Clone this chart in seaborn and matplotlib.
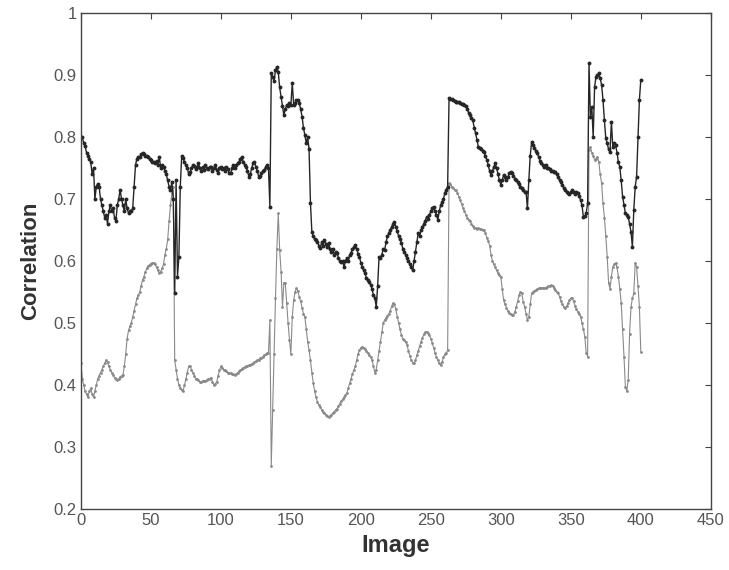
import numpy as np
import pandas as pd
import seaborn as sns
import matplotlib
matplotlib.use("Agg")
import matplotlib.pyplot as plt

# ---- data ----
image_idx = list(range(0, 401))

corr_upper = [
    .800, .800, .790, .785, .775, .770, .765, .760, .740, .750,
    .700, .720, .725, .720, .700, .690, .680, .670, .675, .660,
    .680, .690, .680, .685, .670, .665, .690, .700, .715, .700,
    .690, .680, .700, .685, .677, .680, .680, .685, .720, .755,
    .765, .768, .768, .772, .774, .772, .770, .769, .768, .765,
    .763, .760, .760, .758, .762, .755, .768, .750, .755, .752,
    .745, .740, .730, .720, .715, .728, .700, .548, .730, .575,
    .607, .720, .770, .766, .760, .755, .750, .740, .744, .750,
    .755, .753, .748, .752, .758, .750, .745, .752, .747, .755,
    .750, .748, .752, .752, .745, .750, .755, .747, .742, .750,
    .752, .748, .750, .745, .752, .748, .742, .742, .750, .755,
    .750, .755, .758, .760, .765, .768, .760, .755, .752, .745,
    .736, .740, .750, .758, .760, .752, .745, .736, .738, .742,
    .745, .747, .752, .755, .750, .688, .903, .897, .890, .908,
    .913, .905, .880, .865, .850, .835, .845, .852, .850, .855,
    .852, .887, .852, .855, .860, .860, .855, .845, .833, .815,
    .803, .790, .800, .780, .693, .647, .640, .635, .634, .630,
    .625, .621, .630, .625, .634, .628, .622, .629, .620, .615,
    .620, .610, .615, .613, .605, .600, .599, .600, .590, .600,
    .605, .600, .610, .613, .620, .622, .626, .620, .612, .607,
    .597, .590, .585, .580, .572, .569, .566, .562, .555, .545,
    .540, .526, .560, .607, .605, .610, .620, .618, .630, .640,
    .645, .650, .655, .660, .663, .655, .648, .640, .635, .629,
    .620, .615, .610, .605, .600, .595, .591, .585, .600, .615,
    .630, .645, .640, .650, .655, .660, .665, .671, .668, .675,
    .680, .685, .688, .680, .675, .666, .680, .690, .695, .700,
    .710, .715, .720, .863, .862, .861, .860, .858, .857, .857,
    .856, .855, .854, .853, .852, .850, .845, .839, .835, .830,
    .827, .815, .806, .795, .784, .782, .780, .778, .776, .770,
    .763, .755, .745, .739, .745, .752, .758, .750, .740, .730,
    .723, .730, .739, .735, .730, .735, .742, .744, .742, .738,
    .733, .730, .728, .724, .720, .718, .715, .712, .712, .685,
    .730, .770, .792, .787, .782, .778, .774, .768, .762, .758,
    .755, .752, .755, .750, .750, .748, .746, .745, .744, .744,
    .740, .735, .730, .728, .723, .718, .714, .712, .710, .708,
    .712, .714, .712, .708, .712, .710, .705, .698, .690, .671,
    .672, .677, .693, .919, .833, .849, .800, .881, .897, .900,
    .903, .895, .884, .860, .827, .798, .790, .780, .776, .825,
    .784, .790, .787, .775, .760, .752, .730, .704, .690, .677,
    .675, .671, .660, .647, .623, .682, .720, .736, .800, .860,
    .892,
]

corr_lower = [
    .435, .410, .400, .390, .385, .380, .390, .395, .385, .380,
    .390, .400, .410, .415, .420, .425, .430, .435, .440, .437,
    .430, .425, .420, .416, .412, .410, .408, .410, .413, .415,
    .416, .430, .450, .475, .488, .495, .500, .510, .520, .530,
    .540, .545, .550, .560, .570, .575, .582, .588, .592, .594,
    .596, .597, .597, .595, .590, .585, .580, .583, .588, .595,
    .610, .620, .635, .665, .690, .710, .720, .440, .425, .410,
    .400, .395, .392, .390, .400, .410, .420, .430, .430, .425,
    .420, .415, .410, .410, .408, .405, .405, .407, .406, .407,
    .408, .410, .410, .412, .405, .400, .402, .405, .415, .424,
    .430, .428, .425, .424, .422, .420, .420, .419, .418, .417,
    .416, .418, .420, .422, .424, .426, .428, .429, .430, .431,
    .432, .433, .434, .435, .437, .438, .440, .441, .443, .444,
    .446, .448, .450, .451, .452, .505, .270, .360, .450, .540,
    .620, .677, .618, .583, .526, .565, .565, .532, .500, .473,
    .450, .510, .537, .550, .556, .552, .542, .535, .525, .515,
    .510, .490, .470, .456, .440, .420, .403, .390, .380, .372,
    .368, .365, .360, .357, .355, .352, .350, .349, .350, .352,
    .355, .357, .360, .362, .366, .370, .374, .377, .380, .384,
    .387, .395, .403, .410, .418, .424, .430, .440, .450, .456,
    .460, .462, .460, .458, .455, .452, .448, .445, .440, .430,
    .420, .425, .440, .455, .470, .485, .500, .505, .508, .512,
    .515, .520, .527, .532, .530, .522, .510, .500, .490, .480,
    .475, .473, .470, .465, .455, .447, .440, .436, .435, .440,
    .448, .455, .463, .470, .476, .482, .485, .486, .484, .480,
    .475, .468, .460, .452, .445, .440, .435, .432, .437, .445,
    .450, .452, .456, .726, .724, .720, .718, .715, .714, .710,
    .704, .698, .692, .686, .680, .675, .670, .666, .664, .660,
    .656, .654, .653, .652, .653, .652, .651, .650, .650, .645,
    .638, .632, .625, .610, .600, .595, .590, .585, .580, .578,
    .575, .555, .537, .530, .525, .520, .516, .514, .513, .513,
    .518, .526, .535, .545, .550, .548, .534, .526, .515, .505,
    .510, .530, .548, .550, .552, .553, .555, .556, .556, .556,
    .557, .556, .557, .558, .559, .560, .561, .560, .557, .553,
    .550, .548, .542, .535, .530, .526, .524, .527, .532, .537,
    .540, .540, .535, .528, .522, .518, .515, .510, .500, .490,
    .478, .452, .446, .779, .784, .775, .770, .763, .765, .768,
    .760, .740, .726, .693, .670, .640, .607, .565, .555, .575,
    .590, .595, .597, .590, .575, .555, .532, .490, .446, .397,
    .390, .408, .483, .526, .540, .548, .597, .590, .560, .526,
    .454,
]

x_ticks = [0, 50, 100, 150, 200, 250, 300, 350, 400, 450]
y_ticks = [0.2, 0.3, 0.4, 0.5, 0.6, 0.7, 0.8, 0.9, 1.0]
y_tick_labels = ["0.2", "0.3", "0.4", "0.5", "0.6", "0.7", "0.8", "0.9", "1"]

df_up = pd.DataFrame({"Image": image_idx, "Correlation": corr_upper})
df_lo = pd.DataFrame({"Image": image_idx, "Correlation": corr_lower})

# ---- figure ----
sns.set_style("white")
plt.rcParams["font.family"] = ["Liberation Sans", "DejaVu Sans"]

fig = plt.figure(figsize=(7.29, 5.70), dpi=100)
ax = fig.add_axes([0.111, 0.107, 0.864, 0.870])

sns.lineplot(data=df_lo, x="Image", y="Correlation", ax=ax, color="#8a8a8a",
             linewidth=0.8, marker="o", markersize=2.0, markeredgewidth=0,
             sort=False, estimator=None)
sns.lineplot(data=df_up, x="Image", y="Correlation", ax=ax, color="#262626",
             linewidth=1.0, marker="o", markersize=2.8, markeredgewidth=0,
             sort=False, estimator=None)

ax.set_xlim(0, 450)
ax.set_ylim(0.2, 1.0)
ax.set_xticks(x_ticks)
ax.set_xticklabels([str(t) for t in x_ticks])
ax.set_yticks(y_ticks)
ax.set_yticklabels(y_tick_labels)
ax.tick_params(direction="in", top=True, right=True, length=4, width=0.8,
               labelsize=12, labelcolor="#555555", color="#444444", pad=3)
for sp in ax.spines.values():
    sp.set_visible(True)
    sp.set_color("#444444")
    sp.set_linewidth(1.0)

ax.set_xlabel("Image", fontsize=17, fontweight="bold", color="#333333", labelpad=4)
ax.set_ylabel("Correlation", fontsize=16, fontweight="bold", color="#333333", labelpad=9)

fig.savefig("out.png", dpi=100)
